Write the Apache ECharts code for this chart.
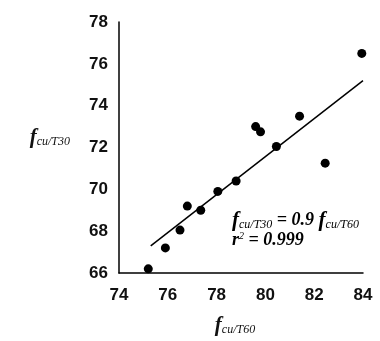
<!DOCTYPE html>
<html>
<head>
<meta charset="utf-8">
<script src="https://cdn.jsdelivr.net/npm/echarts@6/dist/echarts.min.js"></script>
<style>
  html, body, #main { width: 380px; height: 341px; margin: 0; background: #fff; }
</style>
</head>
<body>
<div id="main"></div>
<script>
// measured points (x: f_cu/T60, y: f_cu/T30)
var xVals = [75.2, 75.9, 76.5, 76.8, 77.35, 78.05, 78.8, 79.6, 79.8, 80.45, 81.4, 82.45, 83.95];
var yVals = [66.2, 67.2, 68.05, 69.2, 69.0, 69.9, 70.4, 73.0, 72.75, 72.05, 73.5, 71.25, 76.5];
// fitted line ends
var fitX = [75.3, 84.0];
var fitY = [67.3, 75.2];
var xTicks = [74, 76, 78, 80, 82, 84];
var yTicks = [66, 68, 70, 72, 74, 76, 78];

var pts = xVals.map(function (x, i) { return [x, yVals[i]]; });
var fit = fitX.map(function (x, i) { return [x, fitY[i]]; });

var serif = 'Liberation Serif';
var rich = {
  f: { fontFamily: serif, fontStyle: 'italic', fontWeight: 'bold', fontSize: 21, color: '#111' },
  s: { fontFamily: serif, fontStyle: 'italic', fontSize: 12, color: '#111', padding: [9, 0, 0, 0] },
  t: { fontFamily: serif, fontStyle: 'italic', fontWeight: 'bold', fontSize: 18, color: '#111' },
  sup: { fontFamily: serif, fontStyle: 'italic', fontSize: 10, color: '#111', padding: [0, 0, 9, 0] }
};

var chart = echarts.init(document.getElementById('main'));
chart.setOption({
  backgroundColor: '#fff',
  animation: false,
  grid: { left: 119, right: 17, top: 22, bottom: 68 },
  xAxis: {
    type: 'value', min: 74, max: 84, interval: 2,
    axisLine: { lineStyle: { color: '#000', width: 1.5 } },
    axisTick: { show: false },
    splitLine: { show: false },
    axisLabel: { color: '#111', fontFamily: 'Liberation Sans', fontWeight: 'bold', fontSize: 17, margin: 14,
      formatter: function (v) { return xTicks.indexOf(v) >= 0 ? v : ''; } },
    name: '{f|f}{s|cu/T60}',
    nameLocation: 'middle', nameGap: 42,
    nameTextStyle: { rich: rich, padding: [0, 12, 0, 0] }
  },
  yAxis: {
    type: 'value', min: 66, max: 78, interval: 2,
    axisLine: { lineStyle: { color: '#000', width: 1.5 } },
    axisTick: { show: false },
    splitLine: { show: false },
    axisLabel: { color: '#111', fontFamily: 'Liberation Sans', fontWeight: 'bold', fontSize: 17, margin: 11,
      formatter: function (v) { return yTicks.indexOf(v) >= 0 ? v : ''; } },
    name: '{f|f}{s|cu/T30}',
    nameLocation: 'middle', nameRotate: 0, nameGap: 49,
    nameTextStyle: { rich: rich, padding: [0, 0, 20, 0] }
  },
  graphic: [{
    type: 'text', left: 232, top: 210,
    style: { text: '{f|f}{s|cu/T30}{t| = 0.9 }{f|f}{s|cu/T60}\n{t|r}{sup|2}{t| = 0.999}', rich: rich, lineHeight: 20 }
  }],
  series: [{
    type: 'line', data: fit, showSymbol: false, silent: true,
    lineStyle: { color: '#000', width: 1.5 }
  }, {
    type: 'scatter', data: pts, symbol: 'circle', symbolSize: 9,
    itemStyle: { color: '#000', opacity: 1 }
  }]
});
</script>
</body>
</html>
